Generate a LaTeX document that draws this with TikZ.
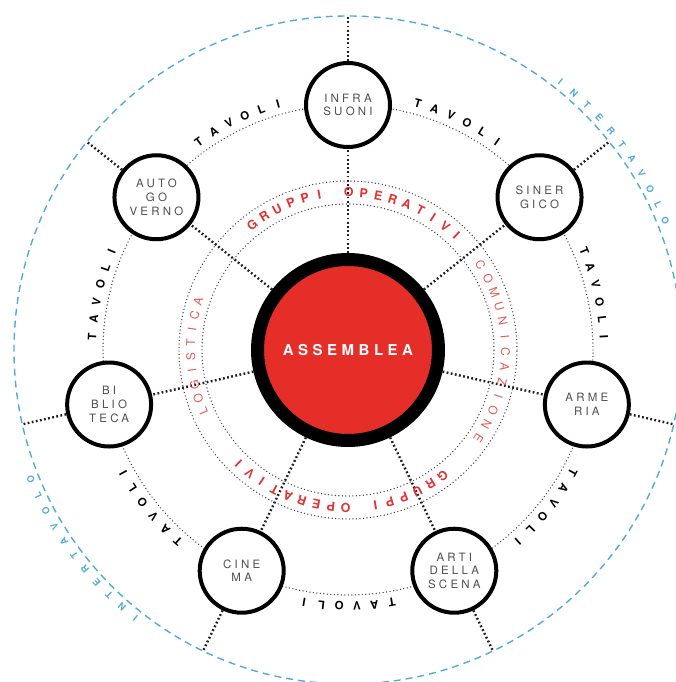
\documentclass[tikz,border=0pt]{standalone}
\usepackage{fontspec}
\setmainfont{TeX Gyre Heros}
\newfontfamily\satfont[LetterSpace=28]{TeX Gyre Heros}
\newfontfamily\assfont[LetterSpace=30]{TeX Gyre Heros}
\definecolor{assred}{RGB}{230,46,40}
\definecolor{txtred}{RGB}{226,50,52}
\definecolor{ltred}{RGB}{228,90,90}
\definecolor{iblue}{RGB}{80,172,214}
\definecolor{txtgray}{RGB}{80,80,80}
\newcommand{\arctext}[7]{%
  \foreach \ch [count=\i] in {#7}{%
    \pgfmathsetmacro\ang{#3+(#5+1)/2*#4-\i*#4}%
    \node[#6, anchor=base, inner sep=0pt, rotate=\ang-90] (#1-\i) at (\ang:#2) {\ch};
  }}
\begin{document}
\begin{tikzpicture}[x=1pt,y=1pt,
  sat/.style={circle, draw=black, line width=4pt, fill=white, minimum size=84pt,
    inner sep=0pt, align=center, text=txtgray, font=\satfont\fontsize{11.5}{13.8}\selectfont},
  assem/.style={circle, draw=black, line width=13pt, fill=assred, minimum size=181pt,
    inner sep=0pt, text=white, font=\assfont\bfseries\fontsize{15}{18}\selectfont},
  ring/.style={draw=black!72, line width=1.45pt, line cap=round, dash pattern=on 0pt off 3.5pt},
  radial/.style={draw=black!88, line width=2.4pt, dash pattern=on 1.8pt off 2.4pt},
  blueline/.style={draw=iblue, line width=1.4pt, dash pattern=on 7pt off 5pt},
  tav/.style={text=black, font=\bfseries\fontsize{11.5}{13}\selectfont},
  grp/.style={text=txtred, font=\bfseries\fontsize{12.5}{15}\selectfont},
  grplt/.style={text=ltred, font=\fontsize{12}{14}\selectfont},
  itv/.style={text=iblue, font=\bfseries\fontsize{9.5}{12}\selectfont}
]
\useasboundingbox (-348,-332) rectangle (328,350);
% rings
\draw[blueline] (0,0) circle[radius=334];
\draw[ring] (0,0) circle[radius=245];
\draw[ring] (0,0) circle[radius=146];
\draw[ring] (0,0) circle[radius=169];
% nodes
\node[assem] (A) at (0,0) {ASSEMBLEA};
\node[sat] (s1) at (90:245) {INFRA\\SUONI};
\node[sat] (s2) at (38.571:245) {SINER\\GICO};
\node[sat] (s3) at (-12.857:245) {ARME\\RIA};
\node[sat] (s4) at (-64.286:245) {ARTI\\DELLA\\SCENA};
\node[sat] (s5) at (-115.714:245) {CINE\\MA};
\node[sat] (s6) at (-167.143:245) {BI\\BLIO\\TECA};
\node[sat] (s7) at (141.429:245) {AUTO\\GO\\VERNO};
% outer coordinates
\coordinate (o1) at (90:334);
\coordinate (o2) at (38.571:334);
\coordinate (o3) at (-12.857:334);
\coordinate (o4) at (-64.286:334);
\coordinate (o5) at (-115.714:334);
\coordinate (o6) at (-167.143:334);
\coordinate (o7) at (141.429:334);
\foreach \k in {1,...,7}{
  \draw[radial] (A) -- (s\k);
  \draw[radial] (s\k) -- (o\k);
}
% TAVOLI labels
\arctext{t1}{252}{64.286}{3.95}{6}{tav}{T,A,V,O,L,I}
\arctext{t2}{252}{12.857}{3.95}{6}{tav}{T,A,V,O,L,I}
\arctext{t3}{252}{-38.571}{3.95}{6}{tav}{T,A,V,O,L,I}
\arctext{t4}{252}{-90}{3.95}{6}{tav}{T,A,V,O,L,I}
\arctext{t5}{252}{-141.429}{3.95}{6}{tav}{T,A,V,O,L,I}
\arctext{t6}{252}{167.143}{3.95}{6}{tav}{T,A,V,O,L,I}
\arctext{t7}{252}{115.714}{3.95}{6}{tav}{T,A,V,O,L,I}
% inner ring labels
\arctext{g1}{153}{87}{5.4}{16}{grp}{G,R,U,P,P,I,{},O,P,E,R,A,T,I,V,I}
\arctext{g2}{153}{-93.5}{5.4}{16}{grp}{G,R,U,P,P,I,{},O,P,E,R,A,T,I,V,I}
\arctext{cm}{153}{-0.6}{5.55}{13}{grplt}{C,O,M,U,N,I,C,A,Z,I,O,N,E}
\arctext{lg}{153}{182.5}{5.1}{9}{grplt}{L,O,G,I,S,T,I,C,A}
% intertavolo
\arctext{i1}{339}{36.9}{2.95}{11}{itv}{I,N,T,E,R,T,A,V,O,L,O}
\arctext{i2}{339}{216.9}{2.95}{11}{itv}{I,N,T,E,R,T,A,V,O,L,O}
\end{tikzpicture}
\end{document}
